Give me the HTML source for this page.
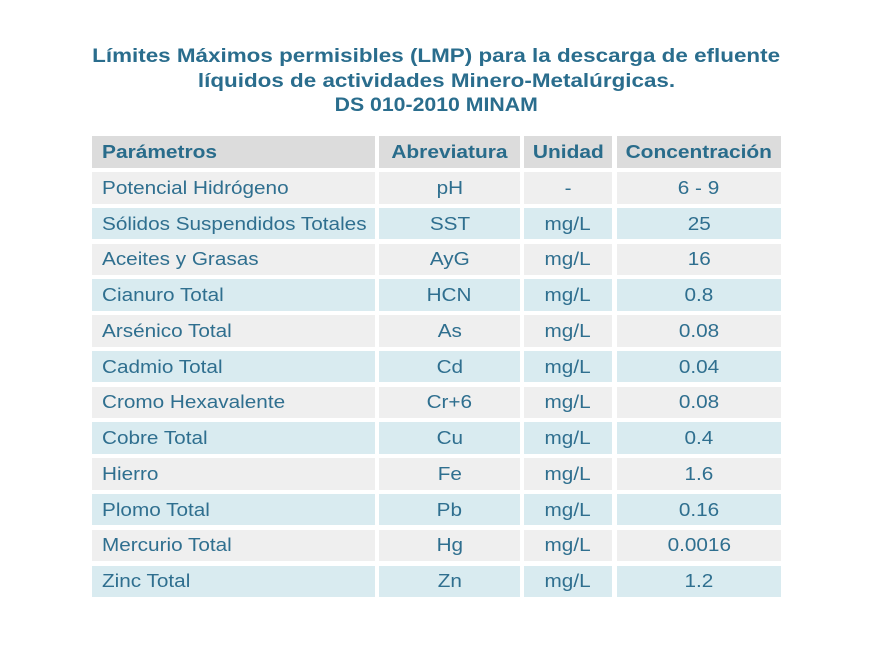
<!DOCTYPE html>
<html>
<head>
<meta charset="utf-8">
<style>
  html, body { margin: 0; padding: 0; background: #ffffff; }
  body { width: 871px; height: 649px; position: relative; overflow: hidden;
         font-family: "Liberation Sans", Arial, sans-serif; color: #2c6e8e; }
  .t { position: absolute; left: 0; width: 873px; text-align: center; font-weight: bold;
       font-size: 19.5px; line-height: 25px; color: #2a6d8d; white-space: nowrap; }
  .t span { display: inline-block; transform: scaleX(1.15); transform-origin: center; }
  .c { position: absolute; display: flex; align-items: center; justify-content: center;
       font-size: 18.5px; white-space: nowrap; color: #2f6f8f; }
  .c span { display: inline-block; transform: scaleX(1.12); transform-origin: center; }
  .l { justify-content: flex-start; padding-left: 10px; box-sizing: border-box; }
  .l span { transform-origin: left center; }
  .h { background: #dcdcdc; font-weight: bold; color: #296c8b; }
  .h span { transform: scaleX(1.13); }
  .g { background: #efefef; }
  .b { background: #d9ebf0; }
</style>
</head>
<body>
<div class="t" style="top:44px;"><span>Límites Máximos permisibles (LMP) para la descarga de efluente</span></div>
<div class="t" style="top:69px;"><span>líquidos de actividades Minero-Metalúrgicas.</span></div>
<div class="t" style="top:93px;"><span style="transform:scaleX(1.09);">DS 010-2010 MINAM</span></div>

<!-- header -->
<div class="c h l" style="left:92px;top:136px;width:283px;height:32px;"><span>Parámetros</span></div>
<div class="c h" style="left:379px;top:136px;width:141px;height:32px;"><span>Abreviatura</span></div>
<div class="c h" style="left:524px;top:136px;width:88px;height:32px;"><span>Unidad</span></div>
<div class="c h" style="left:617px;top:136px;width:164px;height:32px;"><span>Concentración</span></div>

<!-- row 1 -->
<div class="c g l" style="left:92px;top:172px;width:283px;height:31.6px;"><span>Potencial Hidrógeno</span></div>
<div class="c g" style="left:379px;top:172px;width:141px;height:31.6px;"><span>pH</span></div>
<div class="c g" style="left:524px;top:172px;width:88px;height:31.6px;"><span>-</span></div>
<div class="c g" style="left:617px;top:172px;width:164px;height:31.6px;"><span>6 - 9</span></div>

<!-- row 2 -->
<div class="c b l" style="left:92px;top:207.8px;width:283px;height:31.6px;"><span>Sólidos Suspendidos Totales</span></div>
<div class="c b" style="left:379px;top:207.8px;width:141px;height:31.6px;"><span>SST</span></div>
<div class="c b" style="left:524px;top:207.8px;width:88px;height:31.6px;"><span>mg/L</span></div>
<div class="c b" style="left:617px;top:207.8px;width:164px;height:31.6px;"><span>25</span></div>

<!-- row 3 -->
<div class="c g l" style="left:92px;top:243.5px;width:283px;height:31.6px;"><span>Aceites y Grasas</span></div>
<div class="c g" style="left:379px;top:243.5px;width:141px;height:31.6px;"><span>AyG</span></div>
<div class="c g" style="left:524px;top:243.5px;width:88px;height:31.6px;"><span>mg/L</span></div>
<div class="c g" style="left:617px;top:243.5px;width:164px;height:31.6px;"><span>16</span></div>

<!-- row 4 -->
<div class="c b l" style="left:92px;top:279.3px;width:283px;height:31.6px;"><span>Cianuro Total</span></div>
<div class="c b" style="left:379px;top:279.3px;width:141px;height:31.6px;"><span>HCN</span></div>
<div class="c b" style="left:524px;top:279.3px;width:88px;height:31.6px;"><span>mg/L</span></div>
<div class="c b" style="left:617px;top:279.3px;width:164px;height:31.6px;"><span>0.8</span></div>

<!-- row 5 -->
<div class="c g l" style="left:92px;top:315.1px;width:283px;height:31.6px;"><span>Arsénico Total</span></div>
<div class="c g" style="left:379px;top:315.1px;width:141px;height:31.6px;"><span>As</span></div>
<div class="c g" style="left:524px;top:315.1px;width:88px;height:31.6px;"><span>mg/L</span></div>
<div class="c g" style="left:617px;top:315.1px;width:164px;height:31.6px;"><span>0.08</span></div>

<!-- row 6 -->
<div class="c b l" style="left:92px;top:350.9px;width:283px;height:31.6px;"><span>Cadmio Total</span></div>
<div class="c b" style="left:379px;top:350.9px;width:141px;height:31.6px;"><span>Cd</span></div>
<div class="c b" style="left:524px;top:350.9px;width:88px;height:31.6px;"><span>mg/L</span></div>
<div class="c b" style="left:617px;top:350.9px;width:164px;height:31.6px;"><span>0.04</span></div>

<!-- row 7 -->
<div class="c g l" style="left:92px;top:386.6px;width:283px;height:31.6px;"><span>Cromo Hexavalente</span></div>
<div class="c g" style="left:379px;top:386.6px;width:141px;height:31.6px;"><span>Cr+6</span></div>
<div class="c g" style="left:524px;top:386.6px;width:88px;height:31.6px;"><span>mg/L</span></div>
<div class="c g" style="left:617px;top:386.6px;width:164px;height:31.6px;"><span>0.08</span></div>

<!-- row 8 -->
<div class="c b l" style="left:92px;top:422.4px;width:283px;height:31.6px;"><span>Cobre Total</span></div>
<div class="c b" style="left:379px;top:422.4px;width:141px;height:31.6px;"><span>Cu</span></div>
<div class="c b" style="left:524px;top:422.4px;width:88px;height:31.6px;"><span>mg/L</span></div>
<div class="c b" style="left:617px;top:422.4px;width:164px;height:31.6px;"><span>0.4</span></div>

<!-- row 9 -->
<div class="c g l" style="left:92px;top:458.2px;width:283px;height:31.6px;"><span>Hierro</span></div>
<div class="c g" style="left:379px;top:458.2px;width:141px;height:31.6px;"><span>Fe</span></div>
<div class="c g" style="left:524px;top:458.2px;width:88px;height:31.6px;"><span>mg/L</span></div>
<div class="c g" style="left:617px;top:458.2px;width:164px;height:31.6px;"><span>1.6</span></div>

<!-- row 10 -->
<div class="c b l" style="left:92px;top:493.9px;width:283px;height:31.6px;"><span>Plomo Total</span></div>
<div class="c b" style="left:379px;top:493.9px;width:141px;height:31.6px;"><span>Pb</span></div>
<div class="c b" style="left:524px;top:493.9px;width:88px;height:31.6px;"><span>mg/L</span></div>
<div class="c b" style="left:617px;top:493.9px;width:164px;height:31.6px;"><span>0.16</span></div>

<!-- row 11 -->
<div class="c g l" style="left:92px;top:529.7px;width:283px;height:31.6px;"><span>Mercurio Total</span></div>
<div class="c g" style="left:379px;top:529.7px;width:141px;height:31.6px;"><span>Hg</span></div>
<div class="c g" style="left:524px;top:529.7px;width:88px;height:31.6px;"><span>mg/L</span></div>
<div class="c g" style="left:617px;top:529.7px;width:164px;height:31.6px;"><span>0.0016</span></div>

<!-- row 12 -->
<div class="c b l" style="left:92px;top:565.5px;width:283px;height:31.6px;"><span>Zinc Total</span></div>
<div class="c b" style="left:379px;top:565.5px;width:141px;height:31.6px;"><span>Zn</span></div>
<div class="c b" style="left:524px;top:565.5px;width:88px;height:31.6px;"><span>mg/L</span></div>
<div class="c b" style="left:617px;top:565.5px;width:164px;height:31.6px;"><span>1.2</span></div>
</body>
</html>
